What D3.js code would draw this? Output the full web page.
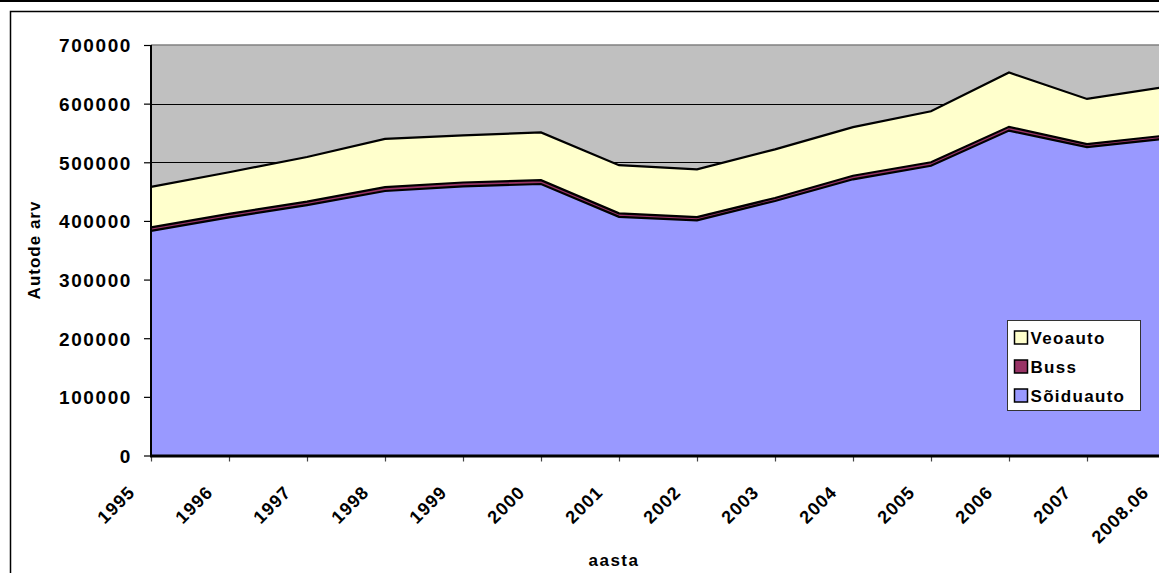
<!DOCTYPE html>
<html><head><meta charset="utf-8">
<script src="https://cdn.jsdelivr.net/npm/d3@7"></script>
<style>
html,body{margin:0;padding:0;background:#fff;overflow:hidden}
text{font-family:"Liberation Sans",Arial,sans-serif;font-weight:bold;fill:#000}
</style></head>
<body>
<script>
const categories = ["1995","1996","1997","1998","1999","2000","2001","2002","2003","2004","2005","2006","2007","2008.06"];
const soiduauto = [383000,406000,427000,451000,459000,463000,407000,401000,434000,471000,494000,554000,526000,540000];
const buss      = [6000,6000,6000,6500,6500,6500,6000,5500,5000,6000,6000,6500,5000,5500];
const veoauto   = [69000,71000,76000,82500,80500,81500,82000,81500,83000,83000,87000,92500,77000,83000];
const yTicks = [0,100000,200000,300000,400000,500000,600000,700000];
const seriesNames = ["Sõiduauto","Buss","Veoauto"];
const seriesColors = ["#9999FF","#993366","#FFFFCC"];

const W = 1159, H = 573;
const svg = d3.select("body").append("svg").attr("width", W).attr("height", H);

// outer frame
svg.append("line").attr("x1",0).attr("x2",W).attr("y1",1).attr("y2",1).attr("stroke","#000").attr("stroke-width",2);
svg.append("rect").attr("x",10.5).attr("y",11.5).attr("width",W+50).attr("height",H+50)
  .attr("fill","#fff").attr("stroke","#000").attr("stroke-width",1.5);

const x0 = 151, xEnd = 1165, yTop = 45, yBot = 455.5;
const x = d3.scalePoint().domain(categories).range([x0, xEnd]);
const y = d3.scaleLinear().domain([0,700000]).range([yBot, yTop]);

// plot background
svg.append("rect").attr("x",x0).attr("y",yTop).attr("width",xEnd-x0).attr("height",yBot-yTop).attr("fill","#C0C0C0");
svg.append("line").attr("x1",x0).attr("x2",xEnd).attr("y1",y(700000)).attr("y2",y(700000)).attr("stroke","#808080").attr("stroke-width",1.5);

// gridlines
svg.append("g").selectAll("line").data(yTicks.filter(d=>d>0 && d<700000)).join("line")
  .attr("x1",x0).attr("x2",xEnd).attr("y1",d=>Math.round(y(d))+0.5).attr("y2",d=>Math.round(y(d))+0.5)
  .attr("stroke","#000").attr("stroke-width",1);

// stacked data
const rows = categories.map((c,i)=>({cat:c, "Sõiduauto":soiduauto[i], "Buss":buss[i], "Veoauto":veoauto[i]}));
const stack = d3.stack().keys(seriesNames)(rows);
const area = d3.area().x(d=>x(d.data.cat)).y0(d=>y(d[0])).y1(d=>y(d[1]));
const line = d3.line().x(d=>x(d.data.cat)).y(d=>y(d[1]));
const g = svg.append("g");
stack.forEach((s,i)=>{
  g.append("path").datum(s).attr("d",area).attr("fill",seriesColors[i]);
});
stack.forEach((s,i)=>{
  g.append("path").datum(s).attr("d",line).attr("fill","none").attr("stroke","#000").attr("stroke-width",2.2).attr("stroke-linejoin","miter");
});

// axes
const yAxis = svg.append("g").attr("transform",`translate(${x0},0)`)
  .call(d3.axisLeft(y).tickValues(yTicks).tickSize(7).tickPadding(12).tickFormat(d=>String(d)));
yAxis.select(".domain").remove();
yAxis.selectAll(".tick line").attr("stroke","#000").attr("stroke-width",1.2);
yAxis.selectAll(".tick text").attr("font-size",19).attr("letter-spacing","1.6px")
  .attr("font-family","Liberation Sans, Arial, sans-serif").attr("font-weight","bold").attr("dy","0.36em");
svg.append("line").attr("x1",x0).attr("x2",x0).attr("y1",yTop).attr("y2",yBot+1).attr("stroke","#000").attr("stroke-width",2);

const xAxis = svg.append("g").attr("transform",`translate(0,${yBot})`)
  .call(d3.axisBottom(x).tickSize(6).tickFormat(""));
xAxis.select(".domain").remove();
xAxis.selectAll(".tick line").attr("stroke","#444").attr("stroke-width",1.2);
svg.append("line").attr("x1",x0-1).attr("x2",xEnd).attr("y1",yBot+0.5).attr("y2",yBot+0.5).attr("stroke","#000").attr("stroke-width",3);

// x labels rotated
svg.append("g").selectAll("text").data(categories).join("text")
  .attr("transform",d=>`translate(${x(d)-15},${yBot+38}) rotate(-45)`)
  .attr("text-anchor","end").attr("font-size",18).attr("letter-spacing","1px")
  .text(d=>d);

// axis titles
svg.append("text").attr("transform","translate(40,250) rotate(-90)").attr("text-anchor","middle")
  .attr("font-size",17).attr("letter-spacing","1px").text("Autode arv");
svg.append("text").attr("x",614).attr("y",566).attr("text-anchor","middle")
  .attr("font-size",17).attr("letter-spacing","1.5px").text("aasta");

// legend
const lg = svg.append("g").attr("transform","translate(1007.5,320.5)");
lg.append("rect").attr("width",133).attr("height",90).attr("fill","#fff").attr("stroke","#333").attr("stroke-width",1);
const legItems = [{n:"Veoauto",c:"#FFFFCC"},{n:"Buss",c:"#993366"},{n:"Sõiduauto",c:"#9999FF"}];
legItems.forEach((it,i)=>{
  const yy = 17 + i*29;
  lg.append("rect").attr("x",7).attr("y",yy-6.5).attr("width",13).attr("height",13)
    .attr("fill",it.c).attr("stroke","#000").attr("stroke-width",1.5);
  lg.append("text").attr("x",23).attr("y",yy).attr("dy","0.36em").attr("font-size",17).attr("letter-spacing","1.3px").text(it.n);
});
</script>
</body></html>
